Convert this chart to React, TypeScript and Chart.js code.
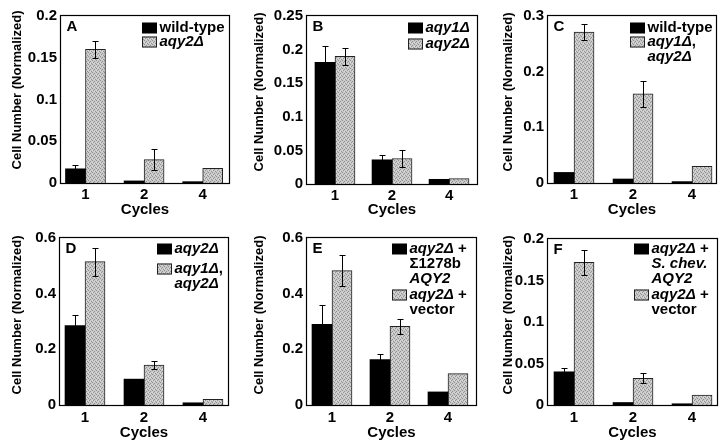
import React, { useEffect, useRef } from "react";
import { Chart, registerables } from "chart.js";

Chart.register(...registerables);

const FONT = '"Liberation Sans", Arial, Helvetica, sans-serif';

// ---------- shared text ----------
const cycleLabels = ["1", "2", "4"];
const yTitle = "Cell Number (Normalized)";
const xTitle = "Cycles";

// ---------- Panel A ----------
const ticksA = ["0", "0.05", "0.1", "0.15", "0.2"];
const wildTypeA = [0.017, 0.0025, 0.0016];
const wildTypeErrA = [0.005, 0, 0];
const aqy2A = [0.16, 0.028, 0.0175];
const aqy2ErrA = [0.01, 0.013, 0];
const legendA = ["wild-type", "*aqy2Δ*"];

// ---------- Panel B ----------
const ticksB = ["0", "0.05", "0.1", "0.15", "0.2", "0.25"];
const aqy1B = [0.181, 0.036, 0.007];
const aqy1ErrB = [0.024, 0.007, 0];
const aqy2B = [0.19, 0.038, 0.008];
const aqy2ErrB = [0.013, 0.013, 0];
const legendB = ["*aqy1Δ*", "*aqy2Δ*"];

// ---------- Panel C ----------
const ticksC = ["0", "0.1", "0.2", "0.3"];
const wildTypeC = [0.019, 0.0072, 0.0025];
const wildTypeErrC = [0, 0, 0];
const aqy1aqy2C = [0.271, 0.16, 0.03];
const aqy1aqy2ErrC = [0.015, 0.023, 0];
const legendC = ["wild-type", "*aqy1Δ*,\n*aqy2Δ*"];

// ---------- Panel D ----------
const ticksD = ["0", "0.2", "0.4", "0.6"];
const aqy2D = [0.285, 0.093, 0.008];
const aqy2ErrD = [0.037, 0, 0];
const aqy1aqy2D = [0.515, 0.143, 0.02];
const aqy1aqy2ErrD = [0.05, 0.015, 0];
const legendD = ["*aqy2Δ*", "*aqy1Δ*,\n*aqy2Δ*"];

// ---------- Panel E ----------
const ticksE = ["0", "0.2", "0.4", "0.6"];
const sigmaAqy2E = [0.29, 0.163, 0.047];
const sigmaAqy2ErrE = [0.068, 0.022, 0];
const vectorE = [0.483, 0.283, 0.113];
const vectorErrE = [0.055, 0.027, 0];
const legendE = ["*aqy2Δ* +\nΣ1278b\n*AQY2*", "*aqy2Δ* +\nvector"];

// ---------- Panel F ----------
const ticksF = ["0", "0.05", "0.1", "0.15", "0.2"];
const schevAqy2F = [0.04, 0.003, 0.0015];
const schevAqy2ErrF = [0.005, 0, 0];
const vectorF = [0.172, 0.032, 0.012];
const vectorErrF = [0.015, 0.006, 0];
const legendF = ["*aqy2Δ* +\n*S. chev.*\n*AQY2*", "*aqy2Δ* +\nvector"];

// ---------- layout (styles only) ----------
type PanelDef = {
  letter: string;
  box: number[]; // left, top, width, height of canvas
  area: number[]; // plot left, top, right, bottom (page coords)
  xRange: number[];
  ticks: string[];
  series: number[][];
  errors: number[][];
  legend: string[];
  legendX: number;
  legendY: number[];
  titleX: number;
  titleY: number;
  tickPad: number;
  titlePad: number;
};

const panels: PanelDef[] = [
  {
    letter: "A", box: [0, 0, 242, 222], area: [61, 16, 229, 183], xRange: [0.582, 3.449],
    ticks: ticksA, series: [wildTypeA, aqy2A], errors: [wildTypeErrA, aqy2ErrA],
    legend: legendA, legendX: 142, legendY: [28, 42], titleX: 17, titleY: 90, tickPad: 3, titlePad: 3,
  },
  {
    letter: "B", box: [242, 0, 243, 222], area: [307, 16, 477, 184], xRange: [0.509, 3.49],
    ticks: ticksB, series: [aqy1B, aqy2B], errors: [aqy1ErrB, aqy2ErrB],
    legend: legendB, legendX: 408, legendY: [28, 44], titleX: 259.5, titleY: 92, tickPad: 3, titlePad: 3,
  },
  {
    letter: "C", box: [485, 0, 243, 222], area: [548, 16, 716, 183], xRange: [0.559, 3.406],
    ticks: ticksC, series: [wildTypeC, aqy1aqy2C], errors: [wildTypeErrC, aqy1aqy2ErrC],
    legend: legendC, legendX: 630, legendY: [28, 42], titleX: 508, titleY: 92, tickPad: 3, titlePad: 3,
  },
  {
    letter: "D", box: [0, 222, 242, 225], area: [60, 238, 228, 405], xRange: [0.576, 3.424],
    ticks: ticksD, series: [aqy2D, aqy1aqy2D], errors: [aqy2ErrD, aqy1aqy2ErrD],
    legend: legendD, legendX: 157, legendY: [249, 269], titleX: 17, titleY: 315, tickPad: 4, titlePad: 5,
  },
  {
    letter: "E", box: [242, 222, 243, 225], area: [307, 238, 476, 405], xRange: [0.569, 3.483],
    ticks: ticksE, series: [sigmaAqy2E, vectorE], errors: [sigmaAqy2ErrE, vectorErrE],
    legend: legendE, legendX: 392, legendY: [249, 295], titleX: 259.5, titleY: 315, tickPad: 4, titlePad: 5,
  },
  {
    letter: "F", box: [485, 222, 243, 225], area: [548, 239, 717, 405], xRange: [0.559, 3.423],
    ticks: ticksF, series: [schevAqy2F, vectorF], errors: [schevAqy2ErrF, vectorErrF],
    legend: legendF, legendX: 634, legendY: [249, 295], titleX: 508, titleY: 315, tickPad: 4, titlePad: 5,
  },
];

function makePattern(): CanvasPattern | string {
  const c = document.createElement("canvas");
  c.width = 4;
  c.height = 4;
  const g = c.getContext("2d");
  if (!g) return "#bbbbbb";
  g.fillStyle = "#c9c9c9";
  g.fillRect(0, 0, 4, 4);
  g.fillStyle = "#929292";
  [[0, 0], [2, 1], [1, 2], [3, 3]].forEach(([x, y]) => g.fillRect(x, y, 1, 1));
  g.fillStyle = "#dcdcdc";
  [[2, 3], [0, 2]].forEach(([x, y]) => g.fillRect(x, y, 1, 1));
  const pat = g.createPattern(c, "repeat");
  return pat || "#bbbbbb";
}

function drawRich(ctx: CanvasRenderingContext2D, text: string, x: number, y: number) {
  const parts = text.split("*");
  let cx = x;
  parts.forEach((part, i) => {
    if (!part) return;
    ctx.font = `${i % 2 ? "italic " : ""}bold 15px ${FONT}`;
    ctx.fillText(part, cx, y);
    cx += ctx.measureText(part).width;
  });
}

function Panel({ p }: { p: PanelDef }) {
  const ref = useRef<HTMLCanvasElement | null>(null);
  const [left, top, width, height] = p.box;
  const [al, at, ar, ab] = p.area;

  useEffect(() => {
    if (!ref.current) return;
    const pattern = makePattern();
    const fills = ["#000000", pattern];
    const yMax = parseFloat(p.ticks[p.ticks.length - 1]);
    const tickFont = { family: FONT, size: 15, weight: "bold" as const };

    const deco = {
      id: "deco" + p.letter,
      afterDatasetsDraw(chart: any) {
        const ctx: CanvasRenderingContext2D = chart.ctx;
        const ca = chart.chartArea;
        const ys = chart.scales.y;
        ctx.save();
        // error bars
        ctx.strokeStyle = "#000";
        ctx.lineWidth = 1;
        p.series.forEach((vals, di) => {
          const meta = chart.getDatasetMeta(di);
          vals.forEach((v, i) => {
            const e = p.errors[di][i];
            if (!e) return;
            const el = meta.data[i];
            const x = Math.round(el.x) + 0.5;
            const y1 = Math.round(ys.getPixelForValue(v + e)) + 0.5;
            const y2 = Math.round(ys.getPixelForValue(v - e)) + 0.5;
            ctx.beginPath();
            ctx.moveTo(x, y1);
            ctx.lineTo(x, y2);
            ctx.moveTo(x - 3, y1);
            ctx.lineTo(x + 3, y1);
            ctx.moveTo(x - 3, y2);
            ctx.lineTo(x + 3, y2);
            ctx.stroke();
          });
        });
        // frame
        ctx.lineWidth = 1.2;
        ctx.strokeRect(ca.left - 0.5, ca.top - 0.5, ca.right - ca.left + 1, ca.bottom - ca.top + 1);
        // panel letter
        ctx.fillStyle = "#000";
        ctx.textAlign = "left";
        ctx.textBaseline = "alphabetic";
        ctx.font = `bold 15px ${FONT}`;
        ctx.fillText(p.letter, ca.left + 5.5, ca.top + 15);
        // legend
        ctx.textBaseline = "middle";
        const bx = p.legendX - left;
        p.legend.forEach((txt, li) => {
          const cy = p.legendY[li] - top;
          ctx.fillStyle = fills[li] as any;
          ctx.fillRect(bx, cy - 5.5, 15, 11);
          if (li === 1) {
            ctx.strokeStyle = "#222";
            ctx.lineWidth = 1;
            ctx.strokeRect(bx + 0.5, cy - 5, 14, 10);
          }
          ctx.fillStyle = "#000";
          txt.split("\n").forEach((line, k) => {
            drawRich(ctx, line, bx + 17.5, cy + k * 14.7);
          });
        });
        // y title
        ctx.save();
        ctx.translate(p.titleX - left, p.titleY - top);
        ctx.rotate(-Math.PI / 2);
        ctx.textAlign = "center";
        ctx.textBaseline = "middle";
        ctx.font = `bold 13px ${FONT}`;
        ctx.fillText(yTitle, 0, 0);
        ctx.restore();
        ctx.restore();
      },
    };

    const chart = new Chart(ref.current, {
      type: "bar",
      data: {
        datasets: p.series.map((vals, di) => ({
          label: p.legend[di].replace(/\*/g, ""),
          data: vals.map((v, i) => ({ x: i + 1, y: v })),
          backgroundColor: fills[di] as any,
          borderColor: di === 1 ? "#222" : "#000",
          borderWidth: di === 1 ? 1 : 0,
          barThickness: 20,
        })),
      },
      options: {
        responsive: false,
        animation: false,
        devicePixelRatio: 1,
        layout: { padding: { left: 0, top: at - top, right: left + width - ar, bottom: 0 } },
        plugins: { legend: { display: false }, tooltip: { enabled: false } },
        scales: {
          x: {
            type: "linear",
            offset: false,
            min: p.xRange[0],
            max: p.xRange[1],
            grid: { display: false, drawTicks: false },
            border: { display: false },
            afterBuildTicks: (s: any) => {
              s.ticks = cycleLabels.map((_, i) => ({ value: i + 1 }));
            },
            ticks: {
              callback: (_v: any, i: number) => cycleLabels[i],
              font: tickFont,
              color: "#000",
              padding: p.tickPad,
              maxRotation: 0,
              autoSkip: false,
            },
            title: {
              display: true,
              text: xTitle,
              font: tickFont,
              color: "#000",
              padding: { top: 0, bottom: p.titlePad },
            },
            afterFit: (s: any) => {
              s.height = top + height - ab;
            },
          },
          y: {
            type: "linear",
            min: 0,
            max: yMax,
            grid: { display: false, drawTicks: false },
            border: { display: false },
            afterBuildTicks: (s: any) => {
              s.ticks = p.ticks.map((t) => ({ value: parseFloat(t) }));
            },
            ticks: {
              callback: (_v: any, i: number) => p.ticks[i],
              font: tickFont,
              color: "#000",
              padding: 4,
              autoSkip: false,
            },
            afterFit: (s: any) => {
              s.width = al - left;
            },
          },
        },
      } as any,
      plugins: [deco],
    });
    return () => chart.destroy();
  }, []);

  return (
    <canvas
      ref={ref}
      width={width}
      height={height}
      style={{ position: "absolute", left, top, width, height }}
    />
  );
}

export default function App() {
  return (
    <div
      style={{
        position: "absolute",
        left: 0,
        top: 0,
        width: 728,
        height: 447,
        background: "#ffffff",
        overflow: "hidden",
      }}
    >
      {panels.map((p) => (
        <Panel key={p.letter} p={p} />
      ))}
    </div>
  );
}
